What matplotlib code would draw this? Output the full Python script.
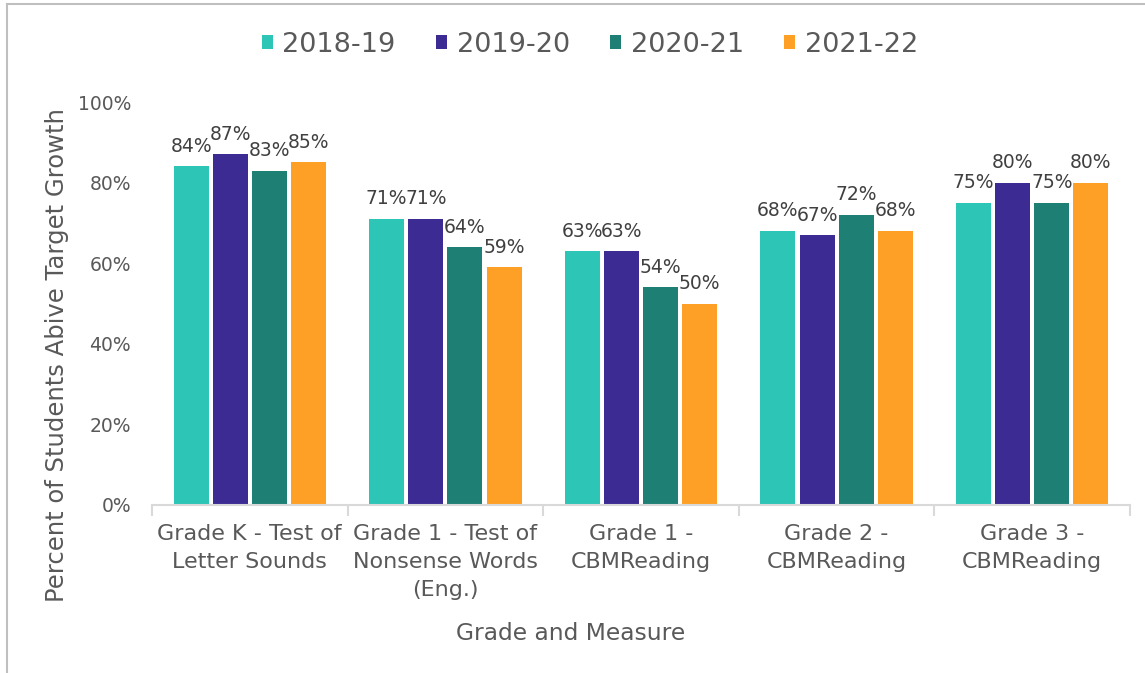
import matplotlib
matplotlib.use("Agg")
import matplotlib.pyplot as plt
import numpy as np
from matplotlib.patches import Patch
from matplotlib.lines import Line2D

categories = ["Grade K - Test of\nLetter Sounds",
              "Grade 1 - Test of\nNonsense Words\n(Eng.)",
              "Grade 1 -\nCBMReading",
              "Grade 2 -\nCBMReading",
              "Grade 3 -\nCBMReading"]
series_names = ["2018-19", "2019-20", "2020-21", "2021-22"]
v_2018_19 = [84, 71, 63, 68, 75]
v_2019_20 = [87, 71, 63, 67, 80]
v_2020_21 = [83, 64, 54, 72, 75]
v_2021_22 = [85, 59, 50, 68, 80]
series_values = [v_2018_19, v_2019_20, v_2020_21, v_2021_22]
colors = ["#2DC5B5", "#3B2B93", "#1E7F74", "#FFA026"]
y_ticks = [0, 20, 40, 60, 80, 100]

plt.rcParams['font.family'] = ['DejaVu Sans']
W, H = 1145, 673
fig = plt.figure(figsize=(W / 100, H / 100), dpi=100)

ax = fig.add_axes([152 / W, 1 - 505 / H, (1130 - 152) / W, (505 - 102) / H])
x = np.arange(len(categories))
slot = 0.2
bw = 0.179
for i, (name, vals, c) in enumerate(zip(series_names, series_values, colors)):
    pos = x + (i - 1.5) * slot
    ax.bar(pos, vals, width=bw, color=c, label=name, zorder=2)
    for p, v in zip(pos, vals):
        ax.text(p, v + 2.6, f"{v}%", ha="center", va="bottom",
                fontsize=13.5, color="#404040")

ax.set_xlim(-0.5, len(categories) - 0.5)
ax.set_ylim(0, 100)
ax.set_yticks(y_ticks)
ax.set_yticklabels([f"{t}%" for t in y_ticks])
ax.tick_params(axis="y", length=0, pad=15, labelsize=13.5, labelcolor="#595959")
ax.set_xticks(x)
ax.set_xticklabels(categories, fontsize=16, color="#595959", linespacing=1.5)
ax.tick_params(axis="x", which="major", length=0, pad=14)
ax.set_xticks(np.arange(-0.5, len(categories), 1.0), minor=True)
ax.tick_params(axis="x", which="minor", length=8, width=1.5, color="#D9D9D9")
for s in ["top", "right", "left"]:
    ax.spines[s].set_visible(False)
ax.spines["bottom"].set_color("#D9D9D9")
ax.spines["bottom"].set_linewidth(1.5)

fig.text(57 / W, 1 - 355 / H, "Percent of Students Abive Target Growth",
         rotation=90, ha="center", va="center", fontsize=17.5, color="#595959")
fig.text(571 / W, 1 - 633 / H, "Grade and Measure",
         ha="center", va="center", fontsize=16.8, color="#595959")

handles = [Patch(facecolor=c, edgecolor="none") for c in colors]
fig.legend(handles, series_names, loc="center", bbox_to_anchor=(590 / W, 1 - 45 / H),
           ncol=4, frameon=False, fontsize=19.5, labelcolor="#595959",
           handlelength=0.4, handleheight=0.4, handletextpad=0.35,
           columnspacing=1.5)

# chart border
fig.add_artist(Line2D([7 / W, 1.0], [1 - 4 / H, 1 - 4 / H], color="#BFBFBF", lw=1.5))
fig.add_artist(Line2D([7 / W, 7 / W], [0, 1 - 4 / H], color="#BFBFBF", lw=1.5))

fig.savefig("out.png", dpi=100)
